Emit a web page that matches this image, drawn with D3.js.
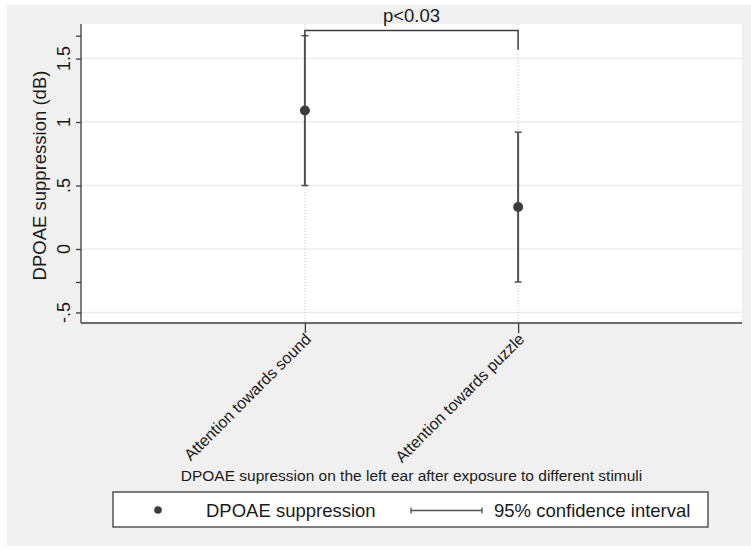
<!DOCTYPE html>
<html>
<head>
<meta charset="utf-8">
<script src="https://cdn.jsdelivr.net/npm/d3@7"></script>
<style>
  body { margin: 0; background: #fff; }
  text { font-family: Arial, "Liberation Sans", sans-serif; fill: #1a1a1a; }
</style>
</head>
<body>
<div id="my_dataviz"></div>
<script>
// data
const categories = ["Attention towards sound", "Attention towards puzzle"];
const catIndex = [1, 2];
const means = [1.09, 0.33];
const ciLow = [0.50, -0.26];
const ciHigh = [1.68, 0.92];
const yTicks = [-0.5, 0, 0.5, 1, 1.5];
const yTickLabels = ["-.5", "0", ".5", "1", "1.5"];
const pLabel = "p<0.03";
const bracketY = 1.72;
const bracketLegEnd = [1.68, 1.57];

const outerWidth = 751;
const outerHeight = 550;
const plot = {left: 81, right: 742, top: 24, bottom: 323};
const dark = "#3c3c3c";

const svg = d3.select("#my_dataviz").append("svg")
  .attr("width", outerWidth)
  .attr("height", outerHeight);

// gray graph region
svg.append("rect")
  .attr("x", 7).attr("y", 5)
  .attr("width", outerWidth - 7).attr("height", 541)
  .style("fill", "#f0f0f0");

// white plot region
svg.append("rect")
  .attr("x", plot.left).attr("y", plot.top)
  .attr("width", plot.right - plot.left).attr("height", plot.bottom - plot.top)
  .style("fill", "#fff");

const xScale = d3.scaleLinear()
  .domain([-0.05, 3.05])
  .range([plot.left, plot.right]);
const yScale = d3.scaleLinear()
  .domain([-0.583, 1.772])
  .range([plot.bottom, plot.top]);

// gridlines
svg.append("g").selectAll("line")
  .data(yTicks).enter().append("line")
  .attr("x1", plot.left).attr("x2", plot.right)
  .attr("y1", d => yScale(d)).attr("y2", d => yScale(d))
  .style("stroke", "#ececec")
  .style("stroke-width", 1.5);

// dotted category guides
svg.append("g").selectAll("line")
  .data(catIndex).enter().append("line")
  .attr("x1", d => xScale(d)).attr("x2", d => xScale(d))
  .attr("y1", plot.top).attr("y2", plot.bottom)
  .style("stroke", "#c8c8c8")
  .style("stroke-dasharray", "1,2");

// y axis (ticks at labels plus data extremes)
const yAxis = d3.axisLeft(yScale)
  .tickValues(yTicks.concat([d3.min(ciLow), d3.max(ciHigh)]))
  .tickSize(5)
  .tickFormat("");
const yAxisGroup = svg.append("g")
  .attr("transform", "translate(" + plot.left + ",0)")
  .call(yAxis);
yAxisGroup.select(".domain").attr("d", "M0," + plot.top + "V" + plot.bottom);
yAxisGroup.selectAll("path, line").style("stroke", dark).style("stroke-width", 1.3);

svg.append("g").selectAll("text")
  .data(yTicks).enter().append("text")
  .attr("transform", d => "translate(70," + yScale(d) + ") rotate(-90)")
  .style("text-anchor", "middle")
  .style("font-size", "18px")
  .text((d, i) => yTickLabels[i]);

svg.append("text")
  .attr("transform", "translate(46," + ((plot.top + plot.bottom) / 2 + 2) + ") rotate(-90)")
  .style("text-anchor", "middle")
  .style("font-size", "18.5px")
  .text("DPOAE suppression (dB)");

// x axis
const xAxis = d3.axisBottom(xScale)
  .tickValues(catIndex)
  .tickSize(10)
  .tickFormat("");
const xAxisGroup = svg.append("g")
  .attr("transform", "translate(0," + plot.bottom + ")")
  .call(xAxis);
xAxisGroup.select(".domain").attr("d", "M" + plot.left + ",0H" + plot.right);
xAxisGroup.selectAll("path, line").style("stroke", dark).style("stroke-width", 1.3);

svg.append("g").selectAll("text")
  .data(catIndex).enter().append("text")
  .attr("transform", d => "translate(" + (xScale(d) - 1) + "," + (plot.bottom + 9) + ") rotate(-45)")
  .attr("dy", "0.72em")
  .style("text-anchor", "end")
  .style("font-size", "16px")
  .text((d, i) => categories[i]);

svg.append("text")
  .attr("x", 411.5)
  .attr("y", 481)
  .style("text-anchor", "middle")
  .style("font-size", "15.5px")
  .text("DPOAE supression on the left ear after exposure to different stimuli");

// confidence intervals
const ci = svg.append("g").selectAll("g")
  .data(catIndex).enter().append("g");
ci.append("line")
  .attr("x1", d => xScale(d)).attr("x2", d => xScale(d))
  .attr("y1", (d, i) => yScale(ciLow[i])).attr("y2", (d, i) => yScale(ciHigh[i]))
  .style("stroke", "#505050").style("stroke-width", 2);
ci.selectAll(".cap")
  .data((d, i) => [{x: d, y: ciLow[i]}, {x: d, y: ciHigh[i]}])
  .enter().append("line")
  .attr("class", "cap")
  .attr("x1", d => xScale(d.x) - 3.5).attr("x2", d => xScale(d.x) + 3.5)
  .attr("y1", d => yScale(d.y)).attr("y2", d => yScale(d.y))
  .style("stroke", "#505050").style("stroke-width", 1.5);

// means
svg.append("g").selectAll("circle")
  .data(catIndex).enter().append("circle")
  .attr("cx", d => xScale(d))
  .attr("cy", (d, i) => yScale(means[i]))
  .attr("r", 5)
  .style("fill", dark);

// significance bracket
svg.append("path")
  .attr("d", "M" + xScale(1) + "," + yScale(bracketLegEnd[0]) +
    "V" + yScale(bracketY) + "H" + xScale(2) + "V" + yScale(bracketLegEnd[1]))
  .style("fill", "none")
  .style("stroke", dark)
  .style("stroke-width", 1.5);
svg.append("text")
  .attr("x", (xScale(1) + xScale(2)) / 2)
  .attr("y", 22)
  .style("text-anchor", "middle")
  .style("font-size", "18.5px")
  .text(pLabel);

// legend
const legend = svg.append("g");
legend.append("rect")
  .attr("x", 113).attr("y", 492)
  .attr("width", 595).attr("height", 35)
  .style("fill", "#fff")
  .style("stroke", dark)
  .style("stroke-width", 1.3);
legend.append("circle")
  .attr("cx", 158).attr("cy", 510)
  .attr("r", 3.8)
  .style("fill", dark);
legend.append("text")
  .attr("x", 206).attr("y", 516.5)
  .style("font-size", "18.5px")
  .text("DPOAE suppression");
legend.append("path")
  .attr("d", "M411,507.5V513.5M411,510.5H482M482,507.5V513.5")
  .style("fill", "none")
  .style("stroke", "#505050")
  .style("stroke-width", 1.3);
legend.append("text")
  .attr("x", 494).attr("y", 516.5)
  .style("font-size", "18.5px")
  .text("95% confidence interval");
</script>
</body>
</html>
